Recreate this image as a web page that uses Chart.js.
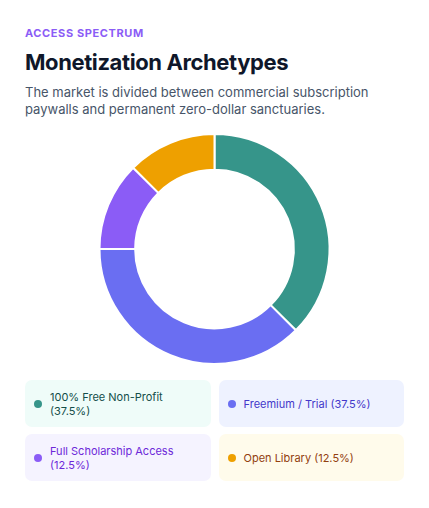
<!DOCTYPE html>
<html>
<head>
<meta charset="utf-8">
<script src="https://cdn.jsdelivr.net/npm/chart.js@4"></script>
<style>
    * { box-sizing: border-box; margin: 0; padding: 0; }
    body { width: 429px; height: 508px; background: #fff; font-family: 'Inter', 'Noto Sans', sans-serif; }
    .card { padding: 26px 25px 0 25px; }
    .eyebrow { font-size: 11px; font-weight: 700; letter-spacing: 0.6px; color: #8b5cf6; line-height: 14px; }
    h1 { font-size: 22px; font-weight: 700; color: #0f172a; margin-top: 8px; line-height: 28px; letter-spacing: -0.4px; }
    .sub { font-size: 13px; color: #475569; margin-top: 8px; line-height: 17px; }
    .chart-wrap { position: relative; height: 232px; margin-top: 15px; }
    .legend { display: grid; grid-template-columns: 1fr 1fr; gap: 7px 8px; margin-top: 15px; width: 379px; }
    .item { display: flex; align-items: center; height: 47px; border-radius: 7px; padding: 0 10px 0 9px; font-size: 11px; line-height: 14px; }
    .dot { width: 8px; height: 8px; border-radius: 50%; margin-right: 8px; flex: none; }
</style>
</head>
<body>
<div class="card">
    <div class="eyebrow">ACCESS SPECTRUM</div>
    <h1>Monetization Archetypes</h1>
    <div class="sub">The market is divided between commercial subscription paywalls and permanent zero-dollar sanctuaries.</div>
    <div class="chart-wrap"><canvas id="chart"></canvas></div>
    <div class="legend" id="legend"></div>
</div>
<script>
// Chart data
const labels = ['100% Free Non-Profit', 'Freemium / Trial', 'Full Scholarship Access', 'Open Library'];
const shares = [37.5, 37.5, 12.5, 12.5];
const colors = ['#36958a', '#6a6ef2', '#8b5cf6', '#eea000'];
const tints = ['#effcf9', '#eef2ff', '#f5f3ff', '#fffbeb'];
const textColors = ['#134e4a', '#4338ca', '#6d28d9', '#92400e'];

new Chart(document.getElementById('chart').getContext('2d'), {
    type: 'doughnut',
    data: {
        labels: labels,
        datasets: [{
            data: shares,
            backgroundColor: colors,
            borderColor: '#ffffff',
            borderWidth: 2,
            hoverOffset: 0
        }]
    },
    options: {
        responsive: true,
        maintainAspectRatio: false,
        animation: false,
        cutout: '69%',
        layout: { padding: 0 },
        plugins: {
            legend: { display: false },
            tooltip: { enabled: false }
        }
    }
});

// Build the legend cards
const legend = document.getElementById('legend');
legend.innerHTML = labels.map((label, i) => `
    <div class="item" style="background:${tints[i]};color:${textColors[i]}">
        <span class="dot" style="background:${colors[i]}"></span>
        <span>${label} (${shares[i]}%)</span>
    </div>
`).join('');
</script>
</body>
</html>
